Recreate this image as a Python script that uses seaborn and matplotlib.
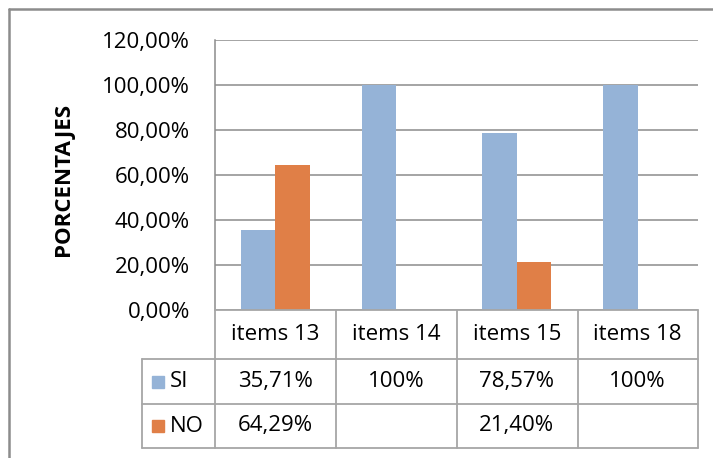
import matplotlib
matplotlib.use("Agg")
import matplotlib.pyplot as plt
import matplotlib.transforms as mtransforms
from matplotlib.patches import Rectangle
from matplotlib.lines import Line2D
import pandas as pd
import seaborn as sns

# data
items = ["items 13", "items 14", "items 15", "items 18"]
series = ["SI", "NO"]
si_vals = [35.71, 100.0, 78.57, 100.0]
no_vals = [64.29, None, 21.40, None]
si_text = ["35,71%", "100%", "78,57%", "100%"]
no_text = ["64,29%", "", "21,40%", ""]
yticks = [0, 20, 40, 60, 80, 100, 120]
ytick_labels = ["0,00%", "20,00%", "40,00%", "60,00%", "80,00%", "100,00%", "120,00%"]

colors = {"SI": "#95b3d7", "NO": "#e07f47"}

df = pd.DataFrame({
    "item": items * 2,
    "serie": ["SI"] * len(items) + ["NO"] * len(items),
    "valor": si_vals + no_vals,
}).dropna()

sns.set_theme(style="white")
plt.rcParams["font.family"] = ["Open Sans", "DejaVu Sans"]

W, H = 713, 458
FS = 16
fig = plt.figure(figsize=(W / 100, H / 100), dpi=100)


def fx(x):
    return x / W


def fy(y):
    return 1 - y / H


ax = fig.add_axes([fx(215), fy(310), fx(698) - fx(215), fy(40) - fy(310)])
sns.barplot(data=df, x="item", y="valor", hue="serie", order=items,
            hue_order=series, palette=colors, width=0.57, saturation=1,
            linewidth=0, ax=ax, legend=False)
ax.set_xlim(-0.5, len(items) - 0.5)
ax.set_ylim(0, 120)
ax.set_yticks(yticks)
ax.set_yticklabels(ytick_labels, fontsize=FS, color="black")
ax.set_xticks([])
ax.set_xlabel("")
ax.set_ylabel("")
ax.tick_params(axis="y", length=0, pad=18)
ax.yaxis.grid(True, color="#8c8c8c", linewidth=1.1)
ax.set_axisbelow(True)
for side in ["top", "right", "bottom"]:
    ax.spines[side].set_visible(False)
ax.spines["left"].set_color("#8c8c8c")
ax.spines["left"].set_linewidth(1.1)

fig.text(fx(63), fy(179), "PORCENTAJES", rotation=90, ha="center",
         va="center", fontsize=16, fontweight="bold", color="black")

# data table under the plot
line_kw = dict(color="#a6a6a6", linewidth=1.3, transform=fig.transFigure)
rows_y = [310, 359, 404, 448]
cols_x = [215, 336, 457, 578, 698]
fig.add_artist(Line2D([fx(215), fx(698)], [fy(310), fy(310)], **line_kw))
for y in rows_y[1:]:
    fig.add_artist(Line2D([fx(142), fx(698)], [fy(y), fy(y)], **line_kw))
for x in cols_x:
    fig.add_artist(Line2D([fx(x), fx(x)], [fy(310), fy(448)], **line_kw))
fig.add_artist(Line2D([fx(142), fx(142)], [fy(359), fy(448)], **line_kw))

trans = mtransforms.blended_transform_factory(ax.transData, fig.transFigure)
row_mid = [(rows_y[i] + rows_y[i + 1]) / 2 for i in range(3)]
for i, name in enumerate(items):
    fig.text(i, fy(row_mid[0]), name, transform=trans, ha="center",
             va="center", fontsize=FS, color="black")
    fig.text(i, fy(row_mid[1]), si_text[i], transform=trans, ha="center",
             va="center", fontsize=FS, color="black")
    fig.text(i, fy(row_mid[2]), no_text[i], transform=trans, ha="center",
             va="center", fontsize=FS, color="black")

for k, name in enumerate(series):
    ym = row_mid[k + 1]
    fig.add_artist(Rectangle((fx(152), fy(ym + 6)), fx(12), fy(0) - fy(12),
                             color=colors[name], transform=fig.transFigure))
    fig.text(fx(170), fy(ym), name, ha="left", va="center", fontsize=FS,
             color="black")

# outer chart border
fig.add_artist(Line2D([fx(9), fx(9)], [fy(9), 0], color="#8c8c8c",
                      linewidth=1.8, transform=fig.transFigure))
fig.add_artist(Line2D([fx(9), 1], [fy(9), fy(9)], color="#8c8c8c",
                      linewidth=1.8, transform=fig.transFigure))

fig.savefig("out.png", dpi=100)
